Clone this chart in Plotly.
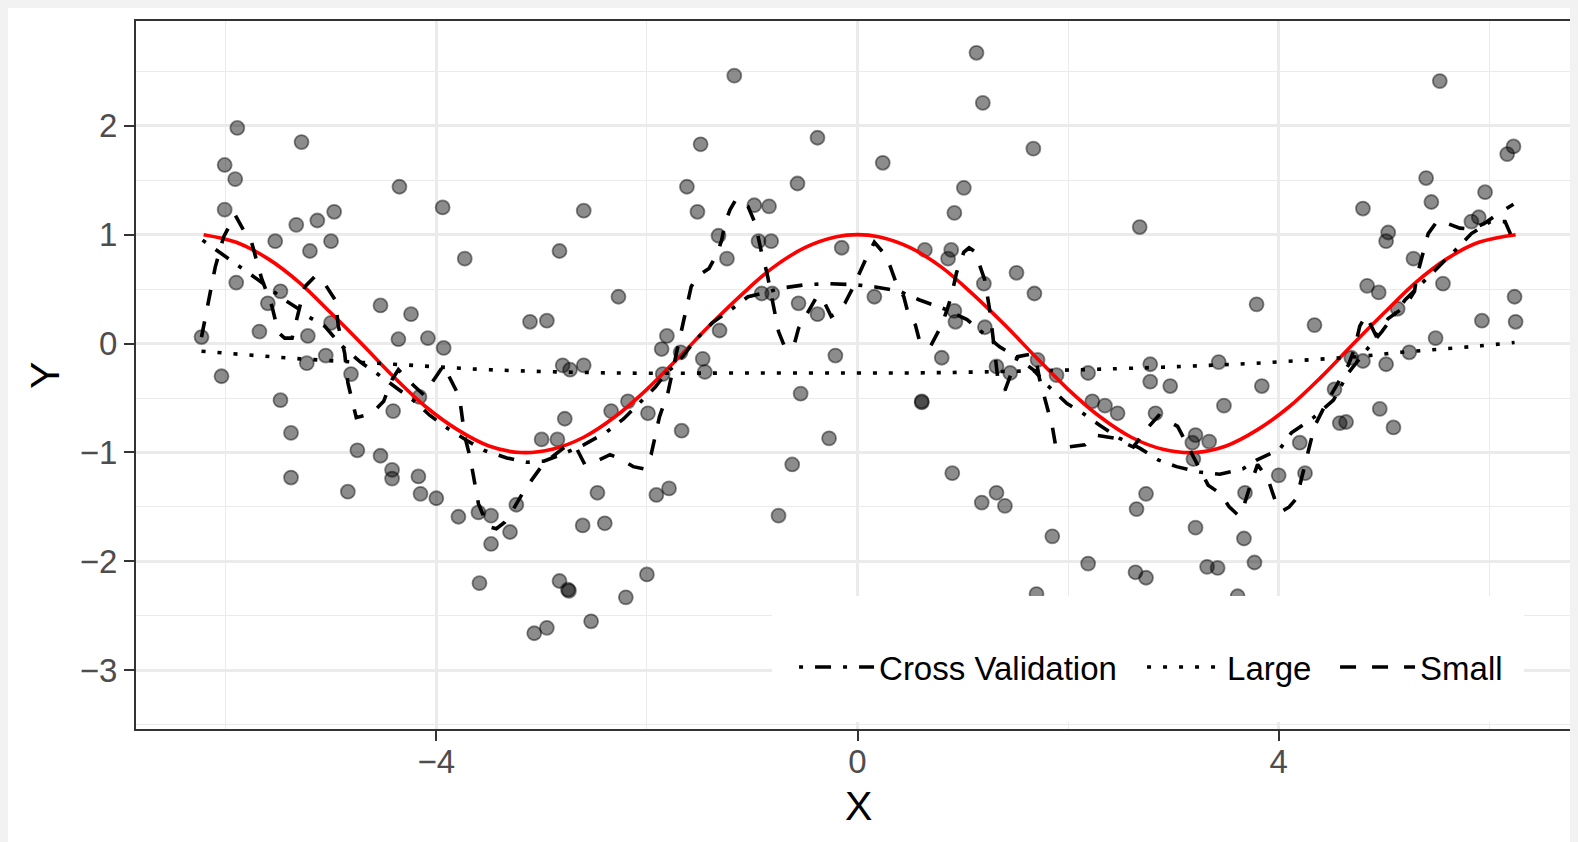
import plotly.graph_objects as go

# ---------------- data ----------------
pts_x = [-5.89, -5.28, -6.01, -5.91, -4.35, -3.94, -6.01, -4.97, -5.13, -5.33,
         -5.53, -5.00, -5.20, -3.73, -5.90, -5.48, -5.60, -4.53, -4.24, -5.00,
         -5.68, -5.22, -6.23, -4.36, -4.08, -3.93, -5.05, -5.23, -4.81, -6.04,
         -5.48, -4.41, -4.16, -5.38, -4.75, -4.53, -4.42, -4.42, -4.17, -5.38,
         -4.84, -4.15, -4.00, -3.79, -3.60, -3.48, -3.48, -3.59, -3.30,
         -1.17, -0.38, -1.49, -1.62, -0.57, -2.60, -1.52, -0.98, -0.84, -1.32,
         -0.94, -0.82, -2.83, -0.15, -1.24, -2.27, -0.91, -0.81, -0.56, -0.38,
         -3.11, -2.95, -1.81, -1.31, -1.86, -1.68, -1.47, -0.21, -2.80, -2.60,
         -2.73, -1.85, -1.45, -0.54, -2.18, -2.34, -1.99, -2.78, -1.67, -0.27,
         -3.00, -2.85, -0.62, -2.47, -1.91, -1.79, -3.24, -0.75, -2.61, -2.40,
         -2.83, -2.75, -2.74, -2.00, -2.20, -2.53, -3.07, -2.95,
         1.13, 1.19, 1.67, 0.24, 1.01, 0.92, 2.68, 0.64, 0.89, 0.86,
         1.51, 1.20, 1.68, 0.16, 0.92, 0.93, 1.21, 0.80, 1.32, 1.71,
         1.45, 1.89, 2.19, 2.78, 3.43, 0.61, 0.61, 2.78, 2.97, 2.23,
         2.35, 2.47, 2.83, 3.48, 3.21, 3.18, 3.34, 3.19, 0.90, 1.32,
         1.18, 1.40, 2.74, 2.65, 1.85, 3.21, 2.19, 2.64, 2.74, 3.32,
         3.42, 1.70,
         5.53, 6.23, 6.17, 5.40, 5.45, 5.96, 4.80, 5.90, 5.83, 5.04,
         5.02, 5.28, 4.84, 4.95, 5.56, 3.79, 6.24, 5.13, 4.34, 5.93,
         6.25, 5.49, 5.24, 4.69, 4.80, 5.02, 3.84, 4.53, 4.96, 5.09,
         4.58, 4.64, 4.20, 4.00, 4.25, 3.68, 3.67, 3.77, 3.61]
pts_y = [1.98, 1.85, 1.64, 1.51, 1.44, 1.25, 1.23, 1.21, 1.13, 1.09,
         0.94, 0.94, 0.85, 0.78, 0.56, 0.48, 0.37, 0.35, 0.27, 0.19,
         0.11, 0.07, 0.06, 0.04, 0.05, -0.04, -0.11, -0.18, -0.28, -0.30,
         -0.52, -0.62, -0.49, -0.82, -0.98, -1.03, -1.16, -1.24, -1.22, -1.23,
         -1.36, -1.38, -1.42, -1.59, -1.55, -1.58, -1.84, -2.20, -1.73,
         2.46, 1.89, 1.83, 1.44, 1.47, 1.22, 1.21, 1.27, 1.26, 0.99,
         0.94, 0.94, 0.85, 0.88, 0.78, 0.43, 0.46, 0.46, 0.37, 0.27,
         0.20, 0.21, 0.07, 0.12, -0.05, -0.08, -0.14, -0.11, -0.20, -0.20,
         -0.24, -0.28, -0.26, -0.46, -0.53, -0.62, -0.64, -0.69, -0.80, -0.87,
         -0.88, -0.88, -1.11, -1.37, -1.39, -1.33, -1.48, -1.58, -1.67, -1.65,
         -2.18, -2.26, -2.27, -2.12, -2.33, -2.55, -2.66, -2.61,
         2.67, 2.21, 1.79, 1.66, 1.43, 1.20, 1.07, 0.86, 0.86, 0.78,
         0.65, 0.55, 0.46, 0.43, 0.30, 0.20, 0.15, -0.13, -0.21, -0.15,
         -0.27, -0.29, -0.27, -0.19, -0.17, -0.53, -0.54, -0.35, -0.39, -0.53,
         -0.57, -0.64, -0.64, -0.57, -0.84, -0.91, -0.90, -1.06, -1.19, -1.37,
         -1.46, -1.49, -1.38, -1.52, -1.77, -1.69, -2.02, -2.10, -2.15, -2.05,
         -2.06, -2.30,
         2.41, 1.81, 1.74, 1.52, 1.30, 1.39, 1.24, 1.16, 1.12, 1.02,
         0.94, 0.78, 0.53, 0.47, 0.55, 0.36, 0.43, 0.32, 0.17, 0.21,
         0.20, 0.05, -0.08, -0.13, -0.16, -0.19, -0.39, -0.42, -0.60, -0.77,
         -0.73, -0.72, -0.91, -1.21, -1.19, -1.37, -1.79, -2.01, -2.32]

true_x = [-6.21, -5.9, -5.6, -5.3, -5.0, -4.7, -4.4, -4.1, -3.8, -3.5, -3.2,
          -2.9, -2.6, -2.3, -2.0, -1.7, -1.4, -1.1, -0.8, -0.5, -0.2, 0.0,
          0.2, 0.5, 0.8, 1.1, 1.4, 1.7, 2.0, 2.3, 2.6, 2.9, 3.2, 3.5, 3.8,
          4.1, 4.4, 4.7, 5.0, 5.3, 5.6, 5.9, 6.25]
true_y = [1.00, 0.93, 0.78, 0.56, 0.28, -0.01, -0.31, -0.58, -0.79, -0.94, -1.00,
          -0.97, -0.86, -0.67, -0.42, -0.13, 0.17, 0.45, 0.70, 0.88, 0.98, 1.00,
          0.98, 0.88, 0.70, 0.45, 0.17, -0.13, -0.42, -0.67, -0.86, -0.97, -1.00, -0.94, -0.79,
          -0.58, -0.31, -0.01, 0.28, 0.56, 0.78, 0.93, 1.00]

cv_x = [-6.22, -6.09, -5.88, -5.67, -5.44, -5.31, -5.22, -5.06, -4.91, -4.72,
        -4.57, -4.41, -4.22, -4.06, -3.89, -3.71, -3.55, -3.33, -3.14, -2.98,
        -2.79, -2.60, -2.38, -2.22, -2.08, -1.92, -1.81, -1.73, -1.54, -1.38,
        -1.19, -1.04, -0.91, -0.72, -0.50, -0.28, -0.02, 0.17, 0.40, 0.59,
        0.82, 1.04, 1.35, 1.50, 1.67, 1.80, 1.99, 2.14, 2.30, 2.49,
        2.68, 2.86, 3.03, 3.25, 3.44, 3.66, 3.79, 4.01, 4.12, 4.33,
        4.52, 4.66, 4.85, 4.98, 5.20, 5.39, 5.55, 5.68, 5.83, 6.01,
        6.15, 6.24]
cv_y = [0.95, 0.86, 0.72, 0.57, 0.40, 0.32, 0.25, 0.16, -0.01, -0.17,
        -0.27, -0.38, -0.52, -0.66, -0.78, -0.89, -0.98, -1.05, -1.09, -1.08,
        -1.01, -0.93, -0.81, -0.69, -0.55, -0.40, -0.26, -0.20, 0.03, 0.19,
        0.32, 0.43, 0.46, 0.51, 0.54, 0.55, 0.54, 0.52, 0.48, 0.40,
        0.32, 0.22, -0.03, -0.12, -0.24, -0.38, -0.55, -0.64, -0.75, -0.87,
        -0.96, -1.07, -1.13, -1.18, -1.20, -1.15, -1.07, -0.97, -0.82, -0.68,
        -0.52, -0.27, -0.04, 0.11, 0.40, 0.58, 0.74, 0.86, 1.01, 1.12,
        1.12, 0.92]

large_x = [-6.23, -5.29, -4.40, -3.49, -2.29, -1.00, 0.00, 0.47, 1.20, 2.11,
           2.80, 3.33, 3.79, 4.28, 4.75, 5.16, 5.55, 5.92, 6.24]
large_y = [-0.07, -0.14, -0.19, -0.24, -0.27, -0.27, -0.27, -0.27, -0.26, -0.24,
           -0.22, -0.20, -0.18, -0.15, -0.12, -0.08, -0.05, -0.02, 0.01]

small_x = [-6.23, -6.17, -6.10, -6.02, -5.91, -5.83, -5.76, -5.66, -5.56, -5.50,
           -5.44, -5.37, -5.25, -5.15, -5.06, -4.96, -4.93, -4.87, -4.84, -4.76,
           -4.68, -4.60, -4.50, -4.42, -4.36, -4.22, -4.12, -4.00, -3.93, -3.88,
           -3.78, -3.73, -3.68, -3.60, -3.51, -3.43, -3.35, -3.28, -3.16, -2.98,
           -2.78, -2.68, -2.59, -2.48, -2.35, -2.25, -2.13, -2.03, -1.96, -1.88,
           -1.80, -1.72, -1.65, -1.58, -1.53, -1.41, -1.33, -1.29, -1.26, -1.21,
           -1.15, -1.04, -0.97, -0.91, -0.86, -0.81, -0.75, -0.70, -0.61, -0.56,
           -0.48, -0.38, -0.31, -0.25, -0.20, -0.12, -0.04, 0.02, 0.09, 0.16,
           0.25, 0.31, 0.37, 0.44, 0.48, 0.55, 0.59, 0.69, 0.80, 0.85,
           0.89, 0.94, 1.01, 1.06, 1.12, 1.16, 1.21, 1.26, 1.29, 1.33,
           1.40, 1.45, 1.52, 1.63, 1.69, 1.73, 1.85, 1.88, 1.99, 2.16,
           2.26, 2.45, 2.62, 2.75, 2.86, 3.04, 3.17, 3.33, 3.45, 3.53,
           3.62, 3.66, 3.73, 3.80, 3.90, 3.97, 4.03, 4.10, 4.17, 4.25,
           4.34, 4.45, 4.58, 4.66, 4.72, 4.77, 4.83, 4.92, 5.04, 5.20,
           5.29, 5.31, 5.42, 5.51, 5.61, 5.72, 5.83, 5.95, 6.05, 6.23]
small_y = [0.06, 0.35, 0.70, 0.98, 1.18, 1.04, 0.95, 0.60, 0.34, 0.10,
           0.05, 0.05, 0.52, 0.62, 0.55, 0.40, 0.16, -0.09, -0.36, -0.68,
           -0.66, -0.63, -0.53, -0.33, -0.24, -0.38, -0.47, -0.30, -0.20, -0.30,
           -0.49, -0.85, -1.04, -1.47, -1.68, -1.70, -1.64, -1.54, -1.34, -1.10,
           -0.95, -0.94, -1.11, -1.08, -1.02, -1.06, -1.13, -1.15, -1.02, -0.67,
           -0.45, -0.09, 0.23, 0.52, 0.61, 0.69, 0.83, 0.95, 1.10, 1.23,
           1.33, 1.26, 1.10, 0.83, 0.65, 0.40, 0.11, -0.01, -0.04, 0.14,
           0.28, 0.44, 0.37, 0.25, 0.28, 0.37, 0.52, 0.65, 0.80, 0.93,
           0.83, 0.71, 0.55, 0.43, 0.28, 0.17, 0.02, -0.03, 0.17, 0.31,
           0.43, 0.65, 0.84, 0.88, 0.84, 0.72, 0.58, 0.28, 0.00, -0.30,
           -0.43, -0.30, -0.12, -0.10, -0.12, -0.33, -0.76, -0.93, -0.95, -0.93,
           -0.84, -0.87, -0.95, -0.78, -0.66, -0.76, -1.01, -1.30, -1.38, -1.50,
           -1.58, -1.52, -1.30, -1.11, -1.25, -1.45, -1.54, -1.50, -1.42, -1.10,
           -0.76, -0.55, -0.33, -0.20, -0.05, 0.16, 0.26, 0.08, 0.23, 0.34,
           0.48, 0.61, 1.01, 1.13, 1.10, 1.06, 1.05, 1.10, 1.17, 1.28]

legend_names = ["Cross Validation", "Large", "Small"]
x_ticks = [-4, 0, 4]
y_ticks = [-3, -2, -1, 0, 1, 2]

# ---------------- figure ----------------
FONT = "Liberation Sans, Arial, sans-serif"
LW = 3.6

fig = go.Figure()

fig.add_trace(go.Scatter(
    x=pts_x, y=pts_y, mode="markers", showlegend=False, hoverinfo="skip",
    marker=dict(size=14, color="rgba(0,0,0,0.45)",
                line=dict(color="rgba(0,0,0,0.45)", width=1.8))))

fig.add_trace(go.Scatter(
    x=true_x, y=true_y, mode="lines", showlegend=False, hoverinfo="skip",
    line=dict(color="#FF0000", width=LW, shape="spline")))

fig.add_trace(go.Scatter(
    x=cv_x, y=cv_y, mode="lines", name=legend_names[0], legendwidth=258,
    line=dict(color="black", width=LW, dash="4px,12px,16px,12px")))
fig.add_trace(go.Scatter(
    x=large_x, y=large_y, mode="lines", name=legend_names[1], legendwidth=103,
    line=dict(color="black", width=LW, dash="4px,12px", shape="spline")))
fig.add_trace(go.Scatter(
    x=small_x, y=small_y, mode="lines", name=legend_names[2], legendwidth=95,
    line=dict(color="black", width=LW, dash="16px,16px")))

grid = "#EBEBEB"
axis_common = dict(
    showgrid=True, gridcolor=grid, gridwidth=2.6,
    zeroline=False, showline=True, linecolor="#333333", linewidth=2,
    ticks="outside", ticklen=10, tickwidth=2, tickcolor="#333333",
    tickfont=dict(family=FONT, size=33, color="#4D4D4D"),
)

fig.update_xaxes(
    range=[-6.852, 6.871], tickvals=x_ticks, mirror=True, ticklabelstandoff=-8,
    minor=dict(dtick=2, tick0=0, showgrid=True, gridcolor=grid, gridwidth=1.3),
    **axis_common)
fig.update_yaxes(
    range=[-3.539, 2.962], tickvals=y_ticks,
    minor=dict(dtick=0.5, tick0=0, showgrid=True, gridcolor=grid, gridwidth=1.3),
    **axis_common)

fig.update_layout(
    width=1578, height=842,
    margin=dict(l=128, r=5, t=13, b=121),
    paper_bgcolor="white", plot_bgcolor="white",
    font=dict(family=FONT, color="black"),
    showlegend=True,
    legend=dict(orientation="h", x=0.4554, y=0.0876, xanchor="left", yanchor="middle",
                bgcolor="white", font=dict(family=FONT, size=33, color="black"),
                traceorder="normal", itemwidth=75),
    shapes=[
        # white legend background box inside the panel
        dict(type="rect", xref="x", yref="y", x0=-0.812, x1=6.33, y0=-3.475, y1=-2.318,
             fillcolor="white", line=dict(width=0), layer="above"),
    ],
    annotations=[
        dict(text="X", xref="paper", yref="paper", x=0.5, y=-0.1088, showarrow=False,
             xanchor="center", yanchor="middle", font=dict(family=FONT, size=41, color="black")),
        dict(text="Y", xref="paper", yref="paper", x=-0.063, y=0.5, showarrow=False,
             textangle=-90, xanchor="center", yanchor="middle",
             font=dict(family=FONT, size=41, color="black")),
    ],
)

fig.write_html("out.html", post_script="document.body.style.backgroundColor='#F2F2F2';")
